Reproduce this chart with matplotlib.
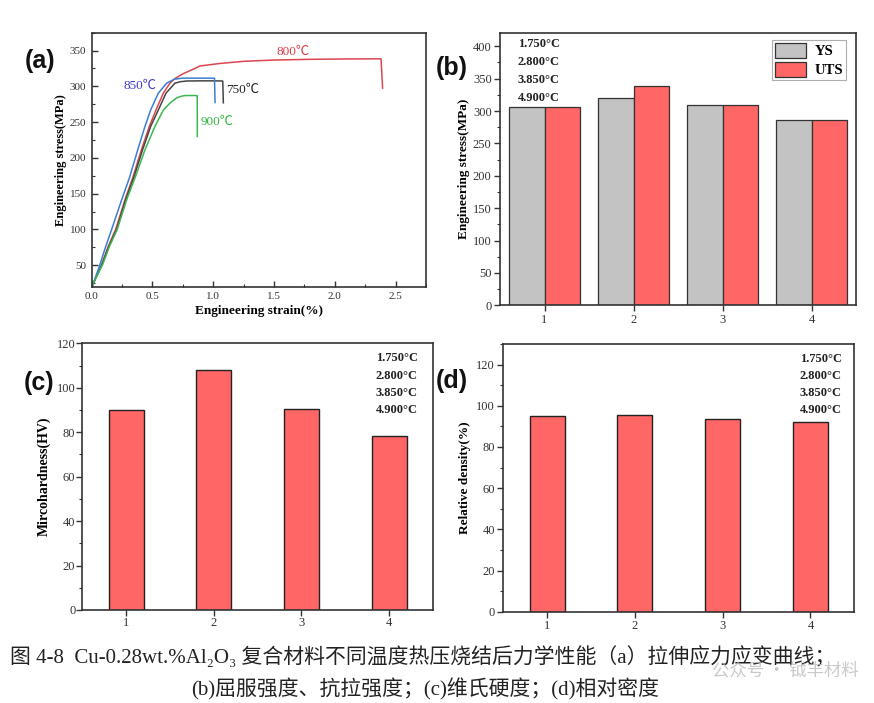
import matplotlib
matplotlib.use('Agg')
import matplotlib.pyplot as plt
from matplotlib.ticker import MultipleLocator
from matplotlib.patches import Patch

SERIF = ['Liberation Serif', 'Noto Sans CJK SC', 'DejaVu Sans']
SANS = ['Liberation Sans', 'DejaVu Sans']
plt.rcParams['font.family'] = SERIF

# ---------------- data ----------------
# (a) stress-strain curves
strain_750 = [0, 0.02, 0.085, 0.14, 0.205, 0.28, 0.345, 0.42, 0.485, 0.548, 0.611, 0.685, 0.73, 0.78, 0.9, 1.0, 1.078, 1.083]
stress_750 = [20, 27, 51, 76, 100, 141.7, 172, 212, 244, 267, 290.5, 304.5, 306.5, 307.5, 307.7, 307.7, 307.5, 277]

strain_800 = [0, 0.02, 0.082, 0.135, 0.197, 0.274, 0.337, 0.41, 0.474, 0.529, 0.589, 0.644, 0.685, 0.75, 0.836, 0.89, 1.055, 1.25, 1.5, 1.8, 2.1, 2.38, 2.393]
stress_800 = [20, 27, 51, 76, 100, 141.7, 172, 212, 244, 267, 290.5, 304.5, 311, 317.5, 324, 328.5, 332, 335, 336.8, 337.8, 338.3, 338.5, 297.5]

strain_850 = [0, 0.02, 0.068, 0.115, 0.164, 0.247, 0.31, 0.38, 0.438, 0.485, 0.548, 0.617, 0.68, 0.75, 0.85, 0.95, 1.01, 1.015]
stress_850 = [20, 28, 51, 76, 100, 141.7, 172, 212, 244, 267, 290.5, 304.5, 310, 311.5, 311.5, 311.5, 311.3, 277.5]

strain_900 = [0, 0.02, 0.09, 0.145, 0.21, 0.288, 0.356, 0.44, 0.52, 0.59, 0.644, 0.70, 0.74, 0.77, 0.86, 0.868, 0.869]
stress_900 = [20, 27, 51, 76, 100, 141.7, 172, 212, 244, 267, 276.6, 284, 286.3, 287.2, 287.2, 287, 230]

curve_labels = ['750℃', '800℃', '850℃', '900℃']

# (b)-(d) bar data
samples = [1, 2, 3, 4]
ys_vals = [305.5, 320, 309, 286]
uts_vals = [306, 338, 310, 286]
hardness = [90.2, 107.8, 90.4, 78.5]
density = [94.9, 95.7, 93.8, 92.0]
temp_labels = ['1.750°C', '2.800°C', '3.850°C', '4.900°C']

W, H = 874, 703
fig = plt.figure(figsize=(W / 100, H / 100), dpi=100)


def box(l, t, r, b):
    return [l / W, 1 - b / H, (r - l) / W, (b - t) / H]


def style(ax, direction, labelsize, pad=2):
    for s in ax.spines.values():
        s.set_linewidth(1.2)
        s.set_color('#333333')
    ax.tick_params(which='both', direction=direction, top=False, right=False,
                   labelsize=labelsize, labelcolor='#333333', color='#333333', pad=pad)
    ax.tick_params(which='major', length=4, width=1)
    ax.tick_params(which='minor', length=2.5, width=0.8)


# ---------------- (a) ----------------
axA = fig.add_axes(box(91.7, 32.7, 426, 286.7))
axA.plot(strain_800, stress_800, color='#dc4650', lw=1.1)
axA.plot(strain_750, stress_750, color='#454545', lw=1.1)
axA.plot(strain_850, stress_850, color='#3a7fd2', lw=1.1)
axA.plot(strain_900, stress_900, color='#3cb850', lw=1.1)
axA.set_xlim(0, 2.75)
axA.set_ylim(20, 375)
axA.xaxis.set_major_locator(MultipleLocator(0.5))
axA.xaxis.set_minor_locator(MultipleLocator(0.25))
axA.yaxis.set_minor_locator(MultipleLocator(25))
axA.set_yticks([50, 100, 150, 200, 250, 300, 350])
axA.xaxis.set_major_formatter(lambda v, p: f'{v:.1f}')
style(axA, 'in', 8, pad=4)
axA.set_xlabel('Engineering strain(%)', fontsize=9.5, fontweight='bold', labelpad=3)
axA.set_ylabel('Engineering stress(MPa)', fontsize=9, fontweight='bold', labelpad=2)
axA.text(1.66, 348, curve_labels[1], color='#dc3c46', fontsize=9.5, ha='center', va='center')
axA.text(0.40, 300, curve_labels[2], color='#3c3cc8', fontsize=9.5, ha='center', va='center')
axA.text(1.24, 295, curve_labels[0], color='#222222', fontsize=9.5, ha='center', va='center')
axA.text(1.03, 251, curve_labels[3], color='#30b840', fontsize=9.5, ha='center', va='center')

# ---------------- (b) ----------------
axB = fig.add_axes(box(500, 33.3, 856, 305.3))
xb = [s - 0.2 for s in samples]
xu = [s + 0.2 for s in samples]
axB.bar(xb, ys_vals, width=0.4, color='#c3c3c3', edgecolor='#333333', lw=0.9)
axB.bar(xu, uts_vals, width=0.4, color='#ff6666', edgecolor='#333333', lw=0.9)
axB.set_xlim(0.5, 4.5)
axB.set_ylim(0, 420)
axB.set_xticks(samples)
axB.yaxis.set_major_locator(MultipleLocator(50))
axB.yaxis.set_minor_locator(MultipleLocator(25))
style(axB, 'out', 9)
axB.set_ylabel('Engineering stress(MPa)', fontsize=9.5, fontweight='bold', labelpad=2)
handles = [Patch(facecolor='#c3c3c3', edgecolor='#333333', lw=0.9),
           Patch(facecolor='#ff6666', edgecolor='#333333', lw=0.9)]
leg = axB.legend(handles, ['YS', 'UTS'], loc='upper right', bbox_to_anchor=(0.98, 0.985),
                 prop={'family': SERIF, 'weight': 'bold', 'size': 10.5},
                 fancybox=False, edgecolor='#999999', handlelength=2.1, handleheight=1.15,
                 borderpad=0.2, labelspacing=0.25, handletextpad=0.6, borderaxespad=0.2)
leg.get_frame().set_linewidth(0.8)
for i, t in enumerate(temp_labels):
    fig.text(518 / W, 1 - (44.3 + 17.8 * i) / H, t, fontsize=9, fontweight='bold',
             ha='left', va='center', color='#222222')

# ---------------- (c) ----------------
axC = fig.add_axes(box(82.3, 343.3, 433, 610))
axC.bar(samples, hardness, width=0.4, color='#ff6666', edgecolor='#222222', lw=1.0)
axC.set_xlim(0.5, 4.5)
axC.set_ylim(0, 120)
axC.set_xticks(samples)
axC.yaxis.set_major_locator(MultipleLocator(20))
axC.yaxis.set_minor_locator(MultipleLocator(10))
style(axC, 'out', 9, pad=1)
axC.set_ylabel('Mircohardness(HV)', fontsize=10, fontweight='bold', labelpad=4)
for i, t in enumerate(temp_labels):
    fig.text(418 / W, 1 - (358.3 + 17.3 * i) / H, t, fontsize=9, fontweight='bold',
             ha='right', va='center', color='#222222')

# ---------------- (d) ----------------
axD = fig.add_axes(box(503.3, 344, 854.3, 611.7))
axD.bar(samples, density, width=0.4, color='#ff6666', edgecolor='#222222', lw=1.0)
axD.set_xlim(0.5, 4.5)
axD.set_ylim(0, 130)
axD.set_xticks(samples)
axD.set_yticks([0, 20, 40, 60, 80, 100, 120])
axD.yaxis.set_minor_locator(MultipleLocator(10))
style(axD, 'out', 9)
axD.set_ylabel('Relative density(%)', fontsize=9.5, fontweight='bold', labelpad=4)
for i, t in enumerate(temp_labels):
    fig.text(842 / W, 1 - (359 + 17 * i) / H, t, fontsize=9, fontweight='bold',
             ha='right', va='center', color='#222222')

# ---------------- panel letters ----------------
for lab, (px, py) in zip(['(a)', '(b)', '(c)', '(d)'],
                         [(40, 61), (452, 68), (39, 383), (452, 381)]):
    fig.text(px / W, 1 - py / H, lab, fontsize=18, fontweight='bold', family=SANS,
             ha='center', va='center', color='#111111')

# ---------------- caption ----------------
cap_font = ['Liberation Serif', 'Noto Sans CJK SC', 'DejaVu Sans']
fig.text(10 / W, 1 - 657 / H,
         '图 4-8  Cu-0.28wt.%Al₂O₃ 复合材料不同温度热压烧结后力学性能（a）拉伸应力应变曲线；',
         fontsize=15, family=cap_font, ha='left', va='center', color='#222222')
fig.text(425 / W, 1 - 689 / H,
         '(b)屈服强度、抗拉强度；(c)维氏硬度；(d)相对密度',
         fontsize=15, family=cap_font, ha='center', va='center', color='#222222')
fig.text(712 / W, 1 - 670 / H, '公众号 · 钺丰材料', fontsize=12.5,
         family=['Noto Sans CJK SC', 'DejaVu Sans'], ha='left', va='center',
         color='#b8b8b8', alpha=0.75)

fig.savefig('out.png', dpi=100)
